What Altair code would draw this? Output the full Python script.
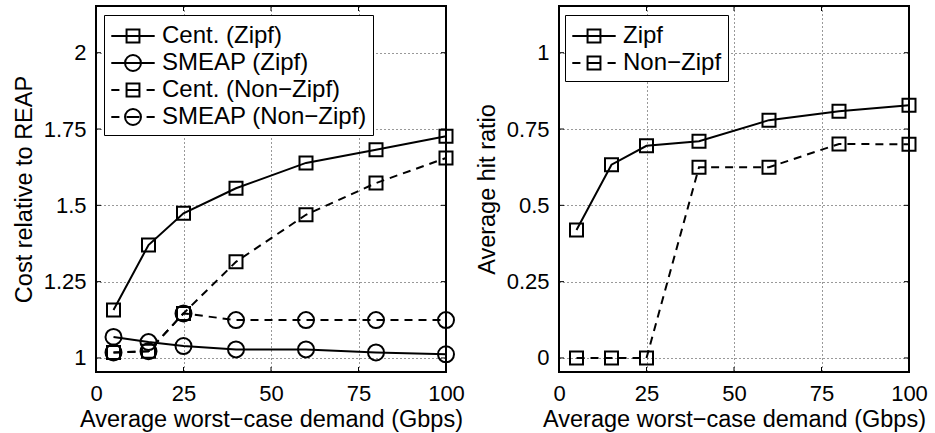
import altair as alt
import pandas as pd

# Demand levels (Gbps) shared by every series
demand = [5, 15, 25, 40, 60, 80, 100]

# Left panel: cost relative to REAP
cent_zipf = [1.157, 1.370, 1.474, 1.556, 1.639, 1.682, 1.726]
smeap_zipf = [1.069, 1.052, 1.039, 1.028, 1.028, 1.018, 1.012]
cent_nonzipf = [1.018, 1.022, 1.146, 1.315, 1.469, 1.573, 1.655]
smeap_nonzipf = [1.018, 1.022, 1.146, 1.124, 1.124, 1.124, 1.124]

# Right panel: average hit ratio
hit_zipf = [0.419, 0.633, 0.695, 0.710, 0.779, 0.808, 0.828]
hit_nonzipf = [0.0, 0.0, 0.0, 0.625, 0.625, 0.701, 0.700]

x_ticks = [0, 25, 50, 75, 100]
cost_ticks = [1, 1.25, 1.5, 1.75, 2]
hit_ticks = [0, 0.25, 0.5, 0.75, 1]

FONT = "Liberation Sans"
W, H = 350, 366
TICK = 5

# Legend glyphs: a line segment with the marker in the middle.
# Symbol size 784 gives a 28 px unit box; the paths run past it to be ~44 px long.
SQ = "M-0.46,-0.46H0.46V0.46H-0.46Z"
CI = "M-0.57,0A0.57,0.57 0 1,0 0.57,0A0.57,0.57 0 1,0 -0.57,0Z"
SOLID = "M-1.55,0H1.55"
DASHED = "M-1.55,0H-0.97M-0.46,0H0.46M0.97,0H1.55"


def long_table(series):
    rows = []
    for name, values, dash, marker in series:
        for x, y in zip(demand, values):
            rows.append({"x": x, "y": y, "series": name, "dash": dash, "marker": marker})
    return pd.DataFrame(rows)


def panel(series, glyphs, y_domain, y_ticks, y_title, leg_x, leg_y):
    df = long_table(series)
    names = [s[0] for s in series]
    base = alt.Chart(df)
    xs = alt.X("x:Q", scale=alt.Scale(domain=[0, 100], nice=False, zero=False),
               axis=alt.Axis(values=x_ticks, title="Average worst\u2212case demand (Gbps)",
                             labelExpr="'' + datum.value", labelPadding=11, titlePadding=3))
    ys = alt.Y("y:Q", scale=alt.Scale(domain=y_domain, nice=False, zero=False),
               axis=alt.Axis(values=y_ticks, title=y_title, labelExpr="'' + datum.value",
                             labelPadding=10, titlePadding=7))

    solid = base.transform_filter("datum.dash == 'solid'").mark_line(
        color="black", strokeWidth=2).encode(x=xs, y=ys, detail="series:N")
    dashed = base.transform_filter("datum.dash == 'dashed'").mark_line(
        color="black", strokeWidth=2, strokeDash=[8, 6]).encode(x=xs, y=ys, detail="series:N")
    squares = base.transform_filter("datum.marker == 'square'").mark_point(
        shape="square", size=169, filled=False, color="black", strokeWidth=2, opacity=1
    ).encode(x=xs, y=ys)
    circles = base.transform_filter("datum.marker == 'circle'").mark_point(
        shape="circle", size=256, filled=False, color="black", strokeWidth=2, opacity=1
    ).encode(x=xs, y=ys)

    legend = base.transform_filter("false").mark_point(
        filled=False, color="black", strokeWidth=2, opacity=1
    ).encode(
        x=xs, y=ys,
        shape=alt.Shape("series:N", scale=alt.Scale(domain=names, range=glyphs),
                        legend=alt.Legend(title=None, orient="none", legendX=leg_x, legendY=leg_y,
                                          symbolSize=784, symbolStrokeWidth=2, symbolOffset=8,
                                          symbolStrokeColor="black", symbolFillColor="transparent",
                                          labelFont=FONT, labelFontSize=24, labelColor="black",
                                          labelLimit=400, labelOffset=14, rowPadding=0,
                                          padding=6, strokeColor="black", fillColor="white",
                                          cornerRadius=0)),
    )

    # inward tick marks on all four sides of the box
    xt = pd.DataFrame({"x": x_ticks})
    yt = pd.DataFrame({"y": y_ticks})
    xsc = alt.X("x:Q", scale=alt.Scale(domain=[0, 100], nice=False, zero=False))
    ysc = alt.Y("y:Q", scale=alt.Scale(domain=y_domain, nice=False, zero=False))
    tick_b = alt.Chart(xt).mark_rule(color="black", strokeWidth=1).encode(
        x=xsc, y=alt.value(H), y2=alt.value(H - TICK))
    tick_t = alt.Chart(xt).mark_rule(color="black", strokeWidth=1).encode(
        x=xsc, y=alt.value(0), y2=alt.value(TICK))
    tick_l = alt.Chart(yt).mark_rule(color="black", strokeWidth=1).encode(
        y=ysc, x=alt.value(0), x2=alt.value(TICK))
    tick_r = alt.Chart(yt).mark_rule(color="black", strokeWidth=1).encode(
        y=ysc, x=alt.value(W), x2=alt.value(W - TICK))

    return alt.layer(tick_b, tick_t, tick_l, tick_r, solid, dashed, squares, circles, legend).properties(
        width=W, height=H)


left = panel(
    [("Cent. (Zipf)", cent_zipf, "solid", "square"),
     ("SMEAP (Zipf)", smeap_zipf, "solid", "circle"),
     ("Cent. (Non\u2212Zipf)", cent_nonzipf, "dashed", "square"),
     ("SMEAP (Non\u2212Zipf)", smeap_nonzipf, "dashed", "circle")],
    [SOLID + SQ, SOLID + CI, DASHED + SQ, DASHED + CI],
    [0.954, 2.153], cost_ticks, "Cost relative to REAP", 8, 9)

right = panel(
    [("Zipf", hit_zipf, "solid", "square"),
     ("Non\u2212Zipf", hit_nonzipf, "dashed", "square")],
    [SOLID + SQ, DASHED + SQ],
    [-0.046, 1.153], hit_ticks, "Average hit ratio", 6, 9)

chart = alt.hconcat(left, right, spacing=113, bounds="flush").resolve_scale(
    shape="independent"
).properties(
    padding={"left": 11, "top": 4, "right": 5, "bottom": 5},
    background="white",
).configure_view(
    stroke="black", strokeWidth=2
).configure_axis(
    labelFont=FONT, labelFontSize=22, labelColor="black", labelFlush=False,
    titleFont=FONT, titleFontSize=23.5, titleFontWeight="normal", titleColor="black",
    domain=False, ticks=False,
    grid=True, gridColor="black", gridDash=[1, 3], gridWidth=1, gridOpacity=0.8,
)

chart.save("out.html", embed_options={"renderer": "svg", "actions": False})
